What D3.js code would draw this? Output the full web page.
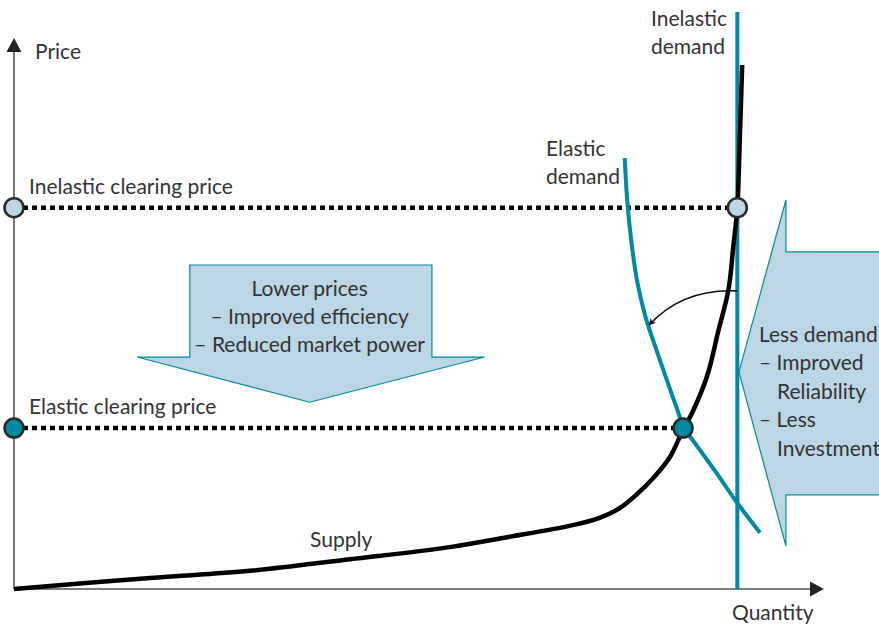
<!DOCTYPE html>
<html>
<head>
<meta charset="utf-8">
<script src="https://cdn.jsdelivr.net/npm/d3@7"></script>
<style>
  body { margin: 0; background: #fff; }
  text { font-family: Lato, "Open Sans", sans-serif; font-size: 21px; fill: #333; }
</style>
</head>
<body>
<svg></svg>
<script>
//Setting
const width = 879;
const height = 627;

// data (quantity 0-100, price 0-100)
const supplyQ = [0, 16.8, 29.1, 41.5, 53.8, 60.9, 69.0, 72.3, 74.8, 76.9, 78.9, 81.0, 82.6, 83.7, 85.6, 86.9, 88.2, 88.8, 89.3, 89.6, 89.9];
const supplyP = [0, 2.0, 3.3, 5.4, 7.6, 9.4, 11.6, 12.9, 14.7, 17.2, 20.1, 24.0, 28.9, 31.9, 38.8, 46.5, 54.3, 62.1, 69.3, 81.5, 95.1];

const elasticQ = [75.4, 75.7, 76.2, 76.9, 77.9, 79.1, 80.6, 81.9, 82.7, 84.7, 87.0, 89.0, 92.1];
const elasticP = [78.2, 70.6, 63.3, 56.1, 49.7, 44.3, 37.9, 32.5, 29.4, 25.2, 20.5, 16.2, 10.2];

const inelasticQ = 89.3;
const inelasticRange = [0, 104.7];

const clearingLabels = ["Inelastic clearing price", "Elastic clearing price"];
const clearingPrices = [69.2, 29.2];
const clearingQ = [89.3, 82.6];

// shift arrow (start, control, end)
const shiftQ = [89.3, 82.6, 78.4];
const shiftP = [54.1, 54.6, 47.9];

// callout shapes
const downArrowQ = [21.7, 51.6, 51.6, 58.1, 36.5, 15.2, 21.7];
const downArrowP = [58.8, 58.8, 42.1, 42.1, 33.9, 42.1, 42.1];
const leftArrowQ = [106.8, 95.3, 95.3, 89.5, 95.3, 95.3, 106.8];
const leftArrowP = [61.2, 61.2, 70.6, 39.4, 7.8, 17.1, 17.1];

const downText = ["Lower prices", "– Improved efficiency", "– Reduced market power"];
const leftText = ["Less demand", "– Improved", "Reliability", "– Less", "Investment"];

const teal = "#0089a1";
const pale = "#bcd6e3";

const svg = d3.select("svg")
            .attr("width", width)
            .attr("height", height);

const x = d3.scaleLinear().domain([0, 100]).range([14, 824]);
const y = d3.scaleLinear().domain([0, 100]).range([589, 38]);

const defs = svg.append("defs");
defs.append("marker")
    .attr("id", "tip")
    .attr("viewBox", "0 0 10 10")
    .attr("refX", 9).attr("refY", 5)
    .attr("markerWidth", 7).attr("markerHeight", 7)
    .attr("markerUnits", "userSpaceOnUse")
    .attr("orient", "auto")
    .append("path")
    .attr("d", "M0,0 L10,5 L0,10 L2.5,5 Z")
    .attr("fill", "#111");

const line = d3.line().x(d => x(d[0])).y(d => y(d[1]));

// callout shapes behind everything
svg.append("path")
   .attr("d", line.curve(d3.curveLinearClosed)(downArrowQ.map((q, i) => [q, downArrowP[i]])))
   .attr("fill", pale).attr("stroke", teal).attr("stroke-width", 1.2);

svg.append("path")
   .attr("d", line.curve(d3.curveLinear)(leftArrowQ.map((q, i) => [q, leftArrowP[i]])))
   .attr("fill", pale).attr("stroke", teal).attr("stroke-width", 1.2);

// axes
svg.append("line")
   .attr("x1", x(0)).attr("y1", y(0)).attr("x2", x(0)).attr("y2", y(100) + 12)
   .attr("stroke", "#555").attr("stroke-width", 1.6);
svg.append("line")
   .attr("x1", x(0)).attr("y1", y(0)).attr("x2", x(100) - 12).attr("y2", y(0))
   .attr("stroke", "#555").attr("stroke-width", 1.6);
svg.append("path")
   .attr("d", `M${x(0)},${y(100)} L${x(0) + 7.5},${y(100) + 14} L${x(0) - 7.5},${y(100) + 14} Z`)
   .attr("fill", "#222");
svg.append("path")
   .attr("d", `M${x(100)},${y(0)} L${x(100) - 14},${y(0) - 7.5} L${x(100) - 14},${y(0) + 7.5} Z`)
   .attr("fill", "#222");

svg.append("text").attr("x", 35).attr("y", 59).text("Price");
svg.append("text").attr("x", 732).attr("y", 620).text("Quantity");

// dotted clearing lines
svg.selectAll(".clear")
   .data(clearingPrices)
   .enter()
   .append("line")
   .attr("class", "clear")
   .attr("x1", x(0)).attr("x2", (d, i) => x(clearingQ[i]))
   .attr("y1", d => y(d)).attr("y2", d => y(d))
   .attr("stroke", "#000").attr("stroke-width", 4.5)
   .attr("stroke-dasharray", "5,4");

svg.selectAll(".clearLabel")
   .data(clearingLabels)
   .enter()
   .append("text")
   .attr("x", 29)
   .attr("y", (d, i) => y(clearingPrices[i]) - 14)
   .text(d => d);

// inelastic demand
svg.append("line")
   .attr("x1", x(inelasticQ)).attr("x2", x(inelasticQ))
   .attr("y1", y(inelasticRange[0])).attr("y2", y(inelasticRange[1]))
   .attr("stroke", teal).attr("stroke-width", 4);

// elastic demand
svg.append("path")
   .attr("d", line.curve(d3.curveCatmullRom)(elasticQ.map((q, i) => [q, elasticP[i]])))
   .attr("fill", "none").attr("stroke", teal).attr("stroke-width", 4);

// supply
svg.append("path")
   .attr("d", line.curve(d3.curveCatmullRom)(supplyQ.map((q, i) => [q, supplyP[i]])))
   .attr("fill", "none").attr("stroke", "#000").attr("stroke-width", 4.5);

// shift arrow
const sp = d3.path();
sp.moveTo(x(shiftQ[0]), y(shiftP[0]));
sp.quadraticCurveTo(x(shiftQ[1]), y(shiftP[1]), x(shiftQ[2]), y(shiftP[2]));
svg.append("path")
   .attr("d", sp.toString())
   .attr("fill", "none").attr("stroke", "#111").attr("stroke-width", 1.6)
   .attr("marker-end", "url(#tip)");

// clearing dots
const dotFill = [pale, teal];
svg.selectAll(".dotAxis")
   .data(clearingPrices)
   .enter()
   .append("circle")
   .attr("cx", x(0)).attr("cy", d => y(d)).attr("r", 9.5)
   .attr("fill", (d, i) => dotFill[i]).attr("stroke", "#2a2a2a").attr("stroke-width", 2.5);
svg.selectAll(".dotCurve")
   .data(clearingPrices)
   .enter()
   .append("circle")
   .attr("cx", (d, i) => x(clearingQ[i])).attr("cy", d => y(d)).attr("r", 9.5)
   .attr("fill", (d, i) => dotFill[i]).attr("stroke", "#2a2a2a").attr("stroke-width", 2.5);

// curve labels
svg.append("text").attr("x", 651).attr("y", 26).text("Inelastic");
svg.append("text").attr("x", 651).attr("y", 54).text("demand");
svg.append("text").attr("x", 546).attr("y", 156).text("Elastic");
svg.append("text").attr("x", 546).attr("y", 184).text("demand");
svg.append("text").attr("x", 310).attr("y", 547).text("Supply");

// callout texts
svg.selectAll(".downText")
   .data(downText)
   .enter()
   .append("text")
   .attr("x", x(36.5)).attr("y", (d, i) => 296 + i * 28)
   .attr("text-anchor", "middle")
   .text(d => d);

svg.selectAll(".leftText")
   .data(leftText)
   .enter()
   .append("text")
   .attr("x", (d, i) => (i == 2 || i == 4) ? 777 : 759)
   .attr("y", (d, i) => 342 + i * 28.4)
   .text(d => d);
</script>
</body>
</html>
